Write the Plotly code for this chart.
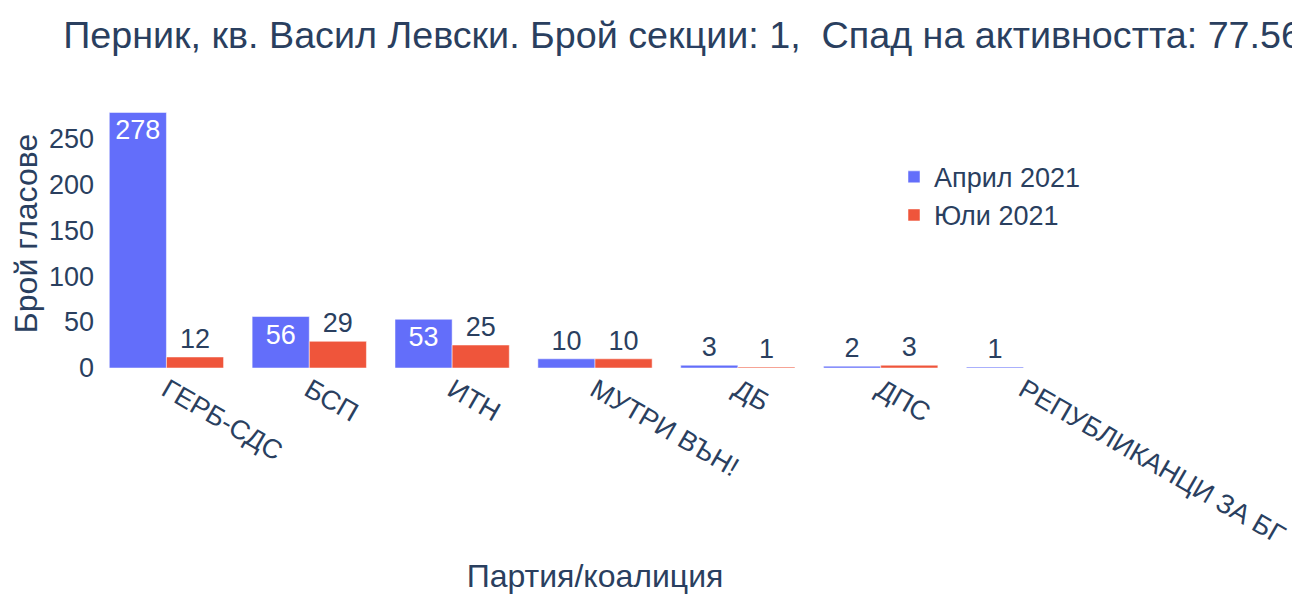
import plotly.graph_objects as go

parties = ["ГЕРБ-СДС", "БСП", "ИТН", "МУТРИ ВЪН!", "ДБ", "ДПС", "РЕПУБЛИКАНЦИ ЗА БГ"]
april = [278, 56, 53, 10, 3, 2, 1]
july = [12, 29, 25, 10, 1, 3, 0]

title = "Перник, кв. Васил Левски. Брой секции: 1,  Спад на активността: 77.56%"


def labels(vals):
    return [str(v) if v else "" for v in vals]


fig = go.Figure()
fig.add_trace(go.Bar(x=parties, y=april, name="Април 2021", text=labels(april),
                     marker_color="#636efa", textposition="auto"))
fig.add_trace(go.Bar(x=parties, y=july, name="Юли 2021", text=labels(july),
                     marker_color="#EF553B", textposition="auto"))

# the page body adds an 8px offset, margins below compensate for it
fig.update_layout(
    template="plotly_white",
    barmode="group",
    width=1300, height=600,
    font=dict(family="Liberation Sans, Arial, sans-serif", size=27, color="#2a3f5f"),
    title=dict(text=title, x=0.0425, xanchor="left", y=0.955, yanchor="middle",
               font=dict(size=37.7)),
    margin=dict(l=87, r=213, t=91, b=240, autoexpand=False),
    legend=dict(x=0.799, y=0.8, xanchor="left", yanchor="top", bgcolor="rgba(0,0,0,0)"),
)
fig.update_xaxes(title=dict(text="Партия/коалиция", font=dict(size=32)),
                 tickangle=30, showgrid=False, showline=False, automargin=False)
fig.update_yaxes(title=dict(text="Брой гласове", font=dict(size=32)),
                 showgrid=False, zeroline=False, showline=False, automargin=False)

fig.write_html("out.html")
